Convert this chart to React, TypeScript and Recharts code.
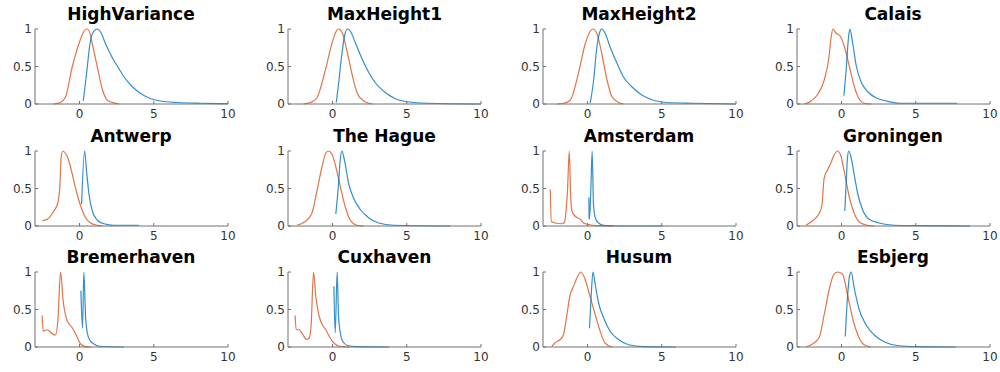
import { LineChart, Line, XAxis, YAxis } from "recharts"

type Pt = [number, number]

const titles = [
  "HighVariance", "MaxHeight1", "MaxHeight2", "Calais",
  "Antwerp", "The Hague", "Amsterdam", "Groningen",
  "Bremerhaven", "Cuxhaven", "Husum", "Esbjerg",
]

const xTicks = [0, 5, 10]
const yTicks = [0, 0.5, 1]

const highVarianceBlue: Pt[] = [[0.25, 0.04], [0.47, 0.4], [0.7, 0.8], [0.92, 0.96], [1.19, 1], [1.42, 0.96], [1.76, 0.8], [2.2, 0.62], [2.66, 0.47], [3.0, 0.36], [3.56, 0.23], [4.12, 0.14], [4.8, 0.07], [5.47, 0.04], [6.6, 0.02], [8.2, 0.01], [10, 0.005]]
const highVarianceOrange: Pt[] = [[-1.73, 0], [-1.3, 0.02], [-0.95, 0.09], [-0.5, 0.49], [-0.05, 0.8], [0.3, 0.97], [0.47, 1], [0.63, 0.98], [0.86, 0.8], [1.2, 0.49], [1.53, 0.2], [1.87, 0.05], [2.43, 0.01], [2.66, 0]]

const maxHeight1Blue: Pt[] = [[0.25, 0.02], [0.4, 0.26], [0.63, 0.67], [0.81, 0.91], [1.0, 1], [1.2, 0.97], [1.53, 0.82], [1.99, 0.6], [2.44, 0.42], [2.89, 0.28], [3.45, 0.17], [4.13, 0.08], [5.03, 0.03], [6.4, 0.01], [10, 0]]
const maxHeight1Orange: Pt[] = [[-1.96, 0], [-1.5, 0.02], [-1.06, 0.08], [-0.5, 0.44], [-0.05, 0.8], [0.25, 0.97], [0.4, 1], [0.63, 0.96], [0.97, 0.71], [1.31, 0.4], [1.65, 0.15], [2.1, 0.04], [2.66, 0]]

const maxHeight2Blue: Pt[] = [[0.18, 0.01], [0.4, 0.3], [0.63, 0.76], [0.81, 0.95], [0.96, 1], [1.19, 0.94], [1.52, 0.76], [1.97, 0.55], [2.42, 0.36], [2.98, 0.23], [3.65, 0.12], [4.44, 0.05], [5.34, 0.02], [7.13, 0.01], [10, 0]]
const maxHeight2Orange: Pt[] = [[-2.06, 0], [-1.6, 0.01], [-1.17, 0.05], [-0.6, 0.42], [-0.16, 0.8], [0.18, 0.97], [0.36, 1], [0.63, 0.94], [0.96, 0.67], [1.3, 0.33], [1.64, 0.1], [2.09, 0.02], [2.42, 0]]

const calaisBlue: Pt[] = [[0.16, 0.11], [0.31, 0.45], [0.47, 0.89], [0.56, 1], [0.72, 0.85], [0.99, 0.51], [1.33, 0.29], [1.78, 0.16], [2.34, 0.08], [3.01, 0.04], [3.91, 0.01], [5.03, 0.01], [7.78, 0.01]]
const calaisOrange: Pt[] = [[-2.49, 0], [-2.04, 0.04], [-1.6, 0.13], [-1.15, 0.33], [-0.85, 0.62], [-0.7, 0.89], [-0.58, 1], [-0.4, 0.95], [-0.07, 0.9], [0.2, 0.76], [0.54, 0.49], [0.88, 0.22], [1.21, 0.06], [1.55, 0.01], [2.0, 0]]

const antwerpBlue: Pt[] = [[0.14, 0.29], [0.34, 1], [0.47, 0.74], [0.63, 0.43], [0.86, 0.2], [1.19, 0.08], [1.64, 0.03], [2.32, 0.01], [4.0, 0.01]]
const antwerpOrange: Pt[] = [[-2.52, 0.07], [-2.18, 0.09], [-1.73, 0.2], [-1.46, 0.31], [-1.33, 0.52], [-1.24, 0.92], [-1.13, 1], [-0.95, 0.97], [-0.77, 0.9], [-0.5, 0.7], [-0.2, 0.45], [0.07, 0.27], [0.41, 0.11], [0.74, 0.04], [1.19, 0.01], [1.53, 0]]

const theHagueBlue: Pt[] = [[0.22, 0.16], [0.4, 0.55], [0.52, 0.89], [0.63, 1], [0.81, 0.87], [1.08, 0.57], [1.42, 0.37], [1.87, 0.22], [2.43, 0.11], [3.1, 0.04], [4.11, 0.01], [7.93, 0]]
const theHagueOrange: Pt[] = [[-2.4, 0.01], [-1.84, 0.06], [-1.39, 0.17], [-1.06, 0.46], [-0.72, 0.78], [-0.43, 0.98], [-0.27, 1], [-0.04, 0.96], [0.18, 0.82], [0.52, 0.53], [0.85, 0.26], [1.19, 0.08], [1.64, 0.01], [2.09, 0]]

const amsterdamBlue: Pt[] = [[0.09, 0.38], [0.11, 0.1], [0.13, 0.09], [0.22, 0.47], [0.31, 1], [0.4, 0.29], [0.52, 0.11], [0.74, 0.04], [1.08, 0.01], [1.97, 0], [5.07, 0]]
const amsterdamOrange: Pt[] = [[-2.51, 0.49], [-2.44, 0.06], [-2.17, 0.04], [-1.73, 0.03], [-1.55, 0.05], [-1.43, 0.24], [-1.35, 0.47], [-1.23, 1], [-1.14, 0.42], [-1.05, 0.2], [-0.83, 0.13], [-0.49, 0.09], [-0.27, 0.04], [0.07, 0.02], [0.63, 0.005], [1.75, 0]]

const groningenBlue: Pt[] = [[0.22, 0.2], [0.34, 0.69], [0.4, 0.91], [0.49, 1], [0.67, 0.89], [0.85, 0.69], [1.08, 0.44], [1.41, 0.22], [1.86, 0.09], [2.53, 0.04], [3.54, 0.01], [5.11, 0.005], [8.65, 0]]
const groningenOrange: Pt[] = [[-2.4, 0.01], [-1.95, 0.07], [-1.5, 0.17], [-1.32, 0.28], [-1.17, 0.64], [-0.94, 0.75], [-0.72, 0.84], [-0.54, 0.93], [-0.27, 1], [-0.04, 0.93], [0.18, 0.73], [0.52, 0.39], [0.85, 0.17], [1.3, 0.04], [1.75, 0.01], [2.2, 0]]

const bremerhavenBlue: Pt[] = [[0.09, 0.75], [0.2, 0.25], [0.29, 1], [0.41, 0.39], [0.52, 0.19], [0.7, 0.09], [0.97, 0.04], [1.31, 0.01], [3.0, 0]]
const bremerhavenOrange: Pt[] = [[-2.52, 0.42], [-2.45, 0.21], [-2.18, 0.23], [-1.85, 0.18], [-1.62, 0.16], [-1.46, 0.35], [-1.28, 1], [-1.1, 0.61], [-0.83, 0.35], [-0.5, 0.26], [-0.2, 0.15], [0.07, 0.04], [0.41, 0.005], [0.74, 0]]

const cuxhavenBlue: Pt[] = [[0.09, 0.81], [0.18, 0.19], [0.31, 1], [0.4, 0.43], [0.52, 0.19], [0.67, 0.08], [1.01, 0.02], [1.57, 0.005], [3.82, 0]]
const cuxhavenOrange: Pt[] = [[-2.52, 0.42], [-2.45, 0.23], [-2.25, 0.23], [-2.02, 0.17], [-1.75, 0.1], [-1.57, 0.12], [-1.44, 0.3], [-1.28, 1], [-1.12, 0.66], [-0.9, 0.41], [-0.67, 0.29], [-0.45, 0.23], [-0.22, 0.14], [0.11, 0.05], [0.45, 0.01], [1.12, 0]]

const husumBlue: Pt[] = [[0.13, 0.25], [0.25, 0.7], [0.36, 1], [0.52, 0.83], [0.74, 0.59], [1.08, 0.39], [1.52, 0.21], [2.09, 0.1], [2.76, 0.03], [3.77, 0.005], [5.96, 0]]
const husumOrange: Pt[] = [[-2.4, 0.01], [-2.17, 0.06], [-1.84, 0.1], [-1.61, 0.17], [-1.39, 0.43], [-1.17, 0.7], [-0.94, 0.81], [-0.72, 0.92], [-0.45, 1], [-0.16, 0.9], [0.13, 0.7], [0.52, 0.43], [0.85, 0.21], [1.19, 0.05], [1.64, 0]]

const esbjergBlue: Pt[] = [[0.25, 0.14], [0.4, 0.66], [0.54, 0.95], [0.65, 1], [0.85, 0.79], [1.19, 0.5], [1.64, 0.3], [2.2, 0.16], [2.87, 0.07], [3.77, 0.02], [5.11, 0.005], [7.69, 0]]
const esbjergOrange: Pt[] = [[-2.4, 0], [-1.95, 0.04], [-1.5, 0.13], [-1.17, 0.43], [-0.83, 0.77], [-0.54, 0.96], [-0.27, 1], [0.07, 0.97], [0.4, 0.7], [0.74, 0.39], [1.08, 0.17], [1.52, 0.03], [1.97, 0]]

const blueSeries = [
  highVarianceBlue, maxHeight1Blue, maxHeight2Blue, calaisBlue,
  antwerpBlue, theHagueBlue, amsterdamBlue, groningenBlue,
  bremerhavenBlue, cuxhavenBlue, husumBlue, esbjergBlue,
]
const orangeSeries = [
  highVarianceOrange, maxHeight1Orange, maxHeight2Orange, calaisOrange,
  antwerpOrange, theHagueOrange, amsterdamOrange, groningenOrange,
  bremerhavenOrange, cuxhavenOrange, husumOrange, esbjergOrange,
]

const colLefts = [34.5, 288, 542.5, 796.5]
const rowTops = [29, 151.3, 272.3]
const plotW = 193
const plotH = 75

const toRows = (pts: Pt[]) => pts.map(([x, y]) => ({ x, y }))

const tickStyle = { fill: "#333", fontSize: 12, fontFamily: "DejaVu Sans" }

function Panel({ idx }: { idx: number }) {
  const left = colLefts[idx % 4]
  const top = rowTops[Math.floor(idx / 4)]
  return (
    <>
      <div
        style={{
          position: "absolute",
          left,
          top: top - 25,
          width: plotW,
          textAlign: "center",
          fontFamily: "DejaVu Sans",
          fontWeight: "bold",
          fontSize: 17,
          lineHeight: "20px",
          color: "#000",
        }}
      >
        {titles[idx]}
      </div>
      <div style={{ position: "absolute", left: left - 34, top: top - 10 }}>
        <LineChart width={34 + plotW + 10} height={10 + plotH + 22} margin={{ top: 10, right: 10, bottom: 0, left: 4 }}>
          <XAxis
            dataKey="x"
            type="number"
            domain={[-3, 10]}
            ticks={xTicks}
            allowDataOverflow
            height={22}
            stroke="#707070"
            tickSize={-3}
            tickMargin={8}
            tick={tickStyle}
          />
          <YAxis
            type="number"
            domain={[0, 1]}
            ticks={yTicks}
            width={30}
            stroke="#707070"
            tickSize={-3}
            tickMargin={6}
            tick={tickStyle}
          />
          <Line type="monotone" data={toRows(orangeSeries[idx])} dataKey="y" stroke="#D95319" strokeOpacity={0.8} strokeWidth={1.2} dot={false} isAnimationActive={false} />
          <Line type="monotone" data={toRows(blueSeries[idx])} dataKey="y" stroke="#0072BD" strokeOpacity={0.8} strokeWidth={1.2} dot={false} isAnimationActive={false} />
        </LineChart>
      </div>
    </>
  )
}

export default function App() {
  return (
    <div style={{ position: "absolute", left: 0, top: 0, width: 1000, height: 372, background: "#fff" }}>
      {titles.map((_, i) => (
        <Panel key={i} idx={i} />
      ))}
    </div>
  )
}
